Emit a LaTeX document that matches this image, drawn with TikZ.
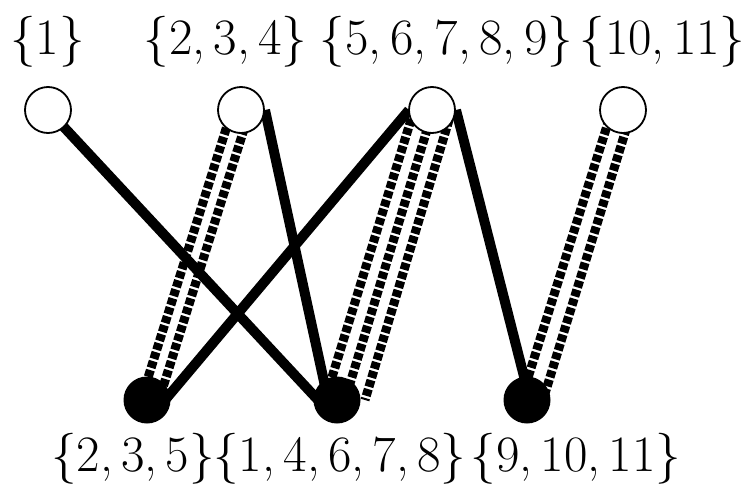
\documentclass[tikz,border=0pt]{standalone}
\begin{document}
\begin{tikzpicture}[x=1pt,y=-1pt,
  topnode/.style={circle,draw,fill=white,line width=1.8pt,minimum size=46pt,inner sep=0pt},
  botnode/.style={circle,fill=black,minimum size=47pt,inner sep=0pt},
  solidedge/.style={line width=10pt},
  dashedge/.style={line width=9pt,dash pattern=on 7pt off 2.4pt},
  lab/.style={anchor=base,inner sep=0pt,font=\fontsize{51}{60}\selectfont}]
\useasboundingbox (0,0) rectangle (745,485);
% node positions (coordinates only, nodes drawn after edges)
\coordinate (t1) at (48,110);
\coordinate (t2) at (241,110);
\coordinate (t3) at (432,110);
\coordinate (t4) at (623,110);
\coordinate (b1) at (147,400);
\coordinate (b2) at (337,400);
\coordinate (b3) at (527,400);
% edges
\draw[solidedge] (t1) -- ([xshift=-19pt]b2);
\draw[dashedge] ([xshift=-9pt]t2) -- ([xshift=-6pt]b1);
\draw[dashedge] ([xshift=9pt]t2) -- ([xshift=12pt]b1);
\draw[solidedge] ([xshift=24pt]t2) -- ([xshift=-9pt]b2);
\draw[solidedge] ([xshift=-23pt]t3) -- ([xshift=18pt]b1);
\draw[dashedge] ([xshift=-18pt]t3) -- ([xshift=-12pt]b2);
\draw[dashedge] ([xshift=1pt]t3) -- ([xshift=8pt]b2);
\draw[dashedge] ([xshift=20pt]t3) -- ([xshift=28pt]b2);
\draw[solidedge] ([xshift=24pt]t3) -- ([xshift=3pt]b3);
\draw[dashedge] ([xshift=-11pt]t4) -- ([xshift=-6pt]b3);
\draw[dashedge] ([xshift=9pt]t4) -- ([xshift=16pt]b3);
% nodes
\node[topnode] (n1) at (t1) {};
\node[topnode] (n2) at (t2) {};
\node[topnode] (n3) at (t3) {};
\node[topnode] (n4) at (t4) {};
\node[botnode] (m1) at (b1) {};
\node[botnode] (m2) at (b2) {};
\node[botnode] (m3) at (b3) {};
% labels
\node[lab] (l1) at (47.5,54) {\{1\}};
\node[lab] (l2) at (225.5,54) {\{2,\,3,\,4\}};
\node[lab] (l3) at (446.5,54) {\{5,\,6,\,7,\,8,\,9\}};
\node[lab] (l4) at (662.5,54) {\{10,\,11\}};
\node[lab] (k1) at (133,471) {\{2,\,3,\,5\}};
\node[lab] (k2) at (340,471) {\{1,\,4,\,6,\,7,\,8\}};
\node[lab] (k3) at (576,471) {\{9,\,10,\,11\}};
\end{tikzpicture}
\end{document}
